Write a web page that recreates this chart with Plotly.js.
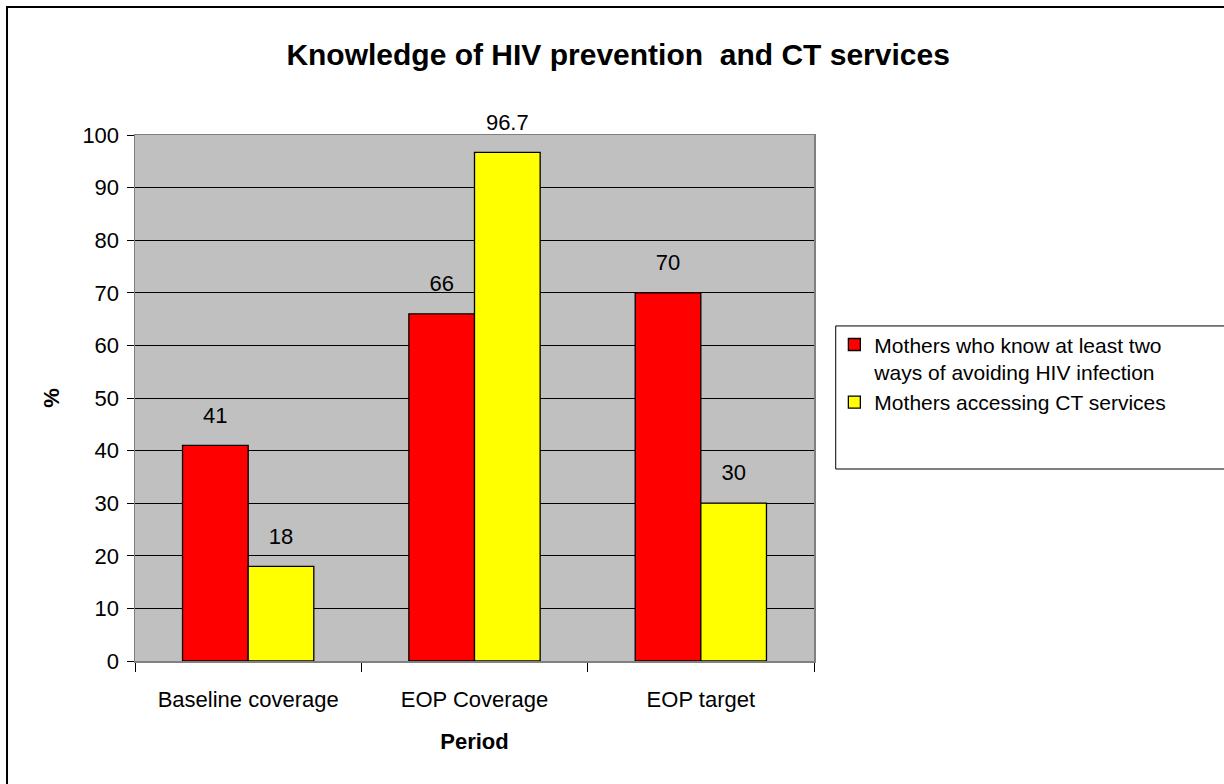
<!DOCTYPE html>
<html>
<head>
<meta charset="utf-8">
<script src="https://cdn.plot.ly/plotly-3.0.1.min.js"></script>
<style>
  html, body { margin: 0; padding: 0; background: #fff; }
  #chart { width: 1224px; height: 784px; }
</style>
</head>
<body>
<div id="chart"></div>
<script>
const categories = ['Baseline coverage', 'EOP Coverage', 'EOP target'];
const seriesNames = ['Mothers who know at least two<br>ways of avoiding HIV infection', 'Mothers accessing CT services'];
const knowTwoWays = [41, 66, 70];
const accessingCT = [18, 96.7, 30];
const yTicks = [0, 10, 20, 30, 40, 50, 60, 70, 80, 90, 100];

const FONT = 'Liberation Sans, Arial, sans-serif';
const colors = ['#ff0000', '#ffff00'];
const series = [knowTwoWays, accessingCT];

const traces = [];
series.forEach((vals, i) => {
  traces.push({
    type: 'bar', x: categories, y: vals, name: seriesNames[i],
    offsetgroup: String(i),
    marker: { color: colors[i], line: { color: '#000', width: 1.3 } },
    hoverinfo: 'x+y'
  });
});
series.forEach((vals, i) => {
  traces.push({
    type: 'scatter', mode: 'markers+text', x: categories, y: vals,
    offsetgroup: String(i),
    text: vals.map(String), textposition: 'top center',
    textfont: { family: FONT, size: 22, color: '#000' },
    marker: { size: 26, opacity: 0 },
    showlegend: false, hoverinfo: 'skip', cliponaxis: false
  });
});

const layout = {
  width: 1224, height: 784,
  margin: { l: 135, r: 410, t: 135, b: 123 },
  paper_bgcolor: '#fff', plot_bgcolor: '#c0c0c0',
  barmode: 'group', bargap: 0.42, bargroupgap: 0,
  scattermode: 'group', scattergap: 0.42,
  font: { family: FONT, color: '#000', size: 21 },
  title: {
    text: '<b>Knowledge of HIV prevention  and CT services</b>',
    font: { family: FONT, size: 30, color: '#000' },
    x: 0.505, xanchor: 'center', y: 0.93, yanchor: 'middle'
  },
  xaxis: {
    type: 'category', tickson: 'boundaries',
    ticks: 'outside', ticklen: 9, tickcolor: '#000', tickwidth: 1,
    tickfont: { family: FONT, size: 22 },
    ticklabelstandoff: 18,
    showline: true, linecolor: '#808080', linewidth: 1.5, mirror: true,
    showgrid: false, zeroline: false,
    title: { text: '<b>Period</b>', font: { family: FONT, size: 22 }, standoff: 22 }
  },
  yaxis: {
    range: [0, 100], tickvals: yTicks, ticktext: yTicks.map(String),
    ticks: 'outside', ticklen: 7, tickcolor: '#000', tickwidth: 1,
    tickfont: { family: FONT, size: 22 },
    ticklabelstandoff: 3,
    showline: true, linecolor: '#808080', linewidth: 1.5, mirror: true,
    showgrid: true, gridcolor: '#000', gridwidth: 1, zeroline: false,
    title: { text: '<b>%</b>', font: { family: FONT, size: 22 }, standoff: 16 }
  },
  legend: {
    x: 1.03, xanchor: 'left', y: 0.64, yanchor: 'top',
    bgcolor: 'rgba(0,0,0,0)', borderwidth: 0,
    font: { family: FONT, size: 21, color: '#000' },
    valign: 'top', itemwidth: 30, traceorder: 'normal', tracegroupgap: 0
  },
  shapes: [
    { type: 'rect', xref: 'paper', yref: 'paper', x0: 1.032, x1: 1.7, y0: 0.365, y1: 0.637,
      line: { color: '#000', width: 1 }, fillcolor: 'rgba(0,0,0,0)', layer: 'above' },
    { type: 'rect', xref: 'paper', yref: 'paper', x0: -0.1885, x1: 2.5, y0: -1.5, y1: 1.2433,
      line: { color: '#000', width: 2 }, fillcolor: 'rgba(0,0,0,0)', layer: 'above' }
  ],
  showlegend: true
};

Plotly.newPlot('chart', traces, layout, { displayModeBar: false, staticPlot: true });
</script>
</body>
</html>
